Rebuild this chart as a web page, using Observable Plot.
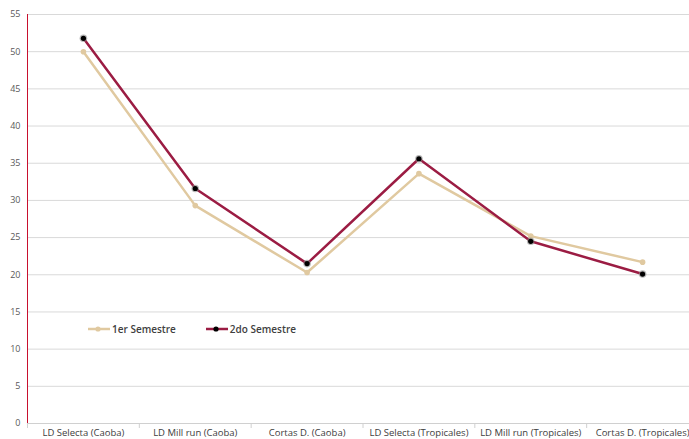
<!DOCTYPE html>
<html><head><meta charset="utf-8">
<script src="https://cdn.jsdelivr.net/npm/d3@7"></script>
<script src="https://cdn.jsdelivr.net/npm/@observablehq/plot@0.6"></script>
<style>
body{margin:0;background:#fff;font-family:"Open Sans",sans-serif;}
#wrap{position:relative;width:689px;height:439px;overflow:hidden;}
#legend{position:absolute;left:88px;top:322px;display:flex;font-size:10px;font-weight:600;color:#404040;}
.item{display:flex;align-items:center;margin-right:30px;}
.item svg{margin-right:2px;}
</style></head>
<body><div id="wrap"><div id="legend"></div></div>
<script>
const categories = ["LD Selecta (Caoba)","LD Mill run (Caoba)","Cortas D. (Caoba)","LD Selecta (Tropicales)","LD Mill run (Tropicales)","Cortas D. (Tropicales)"];
const serie1Name = "1er Semestre";
const serie2Name = "2do Semestre";
const serie1 = [50.0, 29.3, 20.3, 33.6, 25.2, 21.7];
const serie2 = [51.8, 31.6, 21.5, 35.6, 24.5, 20.1];
const yTicks = [0,5,10,15,20,25,30,35,40,45,50,55];

const c1 = "#e0c9a0", c2 = "#9b1c43";
const d1 = categories.map((c,i)=>({x:i+0.5, y:serie1[i]}));
const d2 = categories.map((c,i)=>({x:i+0.5, y:serie2[i]}));

const chart = Plot.plot({
  width:689, height:439,
  marginLeft:27, marginTop:14, marginBottom:16, marginRight:0,
  style:{fontFamily:"Open Sans, sans-serif", background:"#fff"},
  x:{domain:[0,6], range:[27,698]},
  y:{domain:[0,55]},
  marks:[
    Plot.gridY(yTicks,{stroke:"#d9d9d9", strokeOpacity:1}),
    Plot.ruleY([0],{stroke:"#d0d0d0"}),
    Plot.axisY(yTicks,{tickSize:0, tickPadding:7, fontSize:9, fill:"#595959", label:null}),
    Plot.axisX([0,1,2,3,4,5,6],{tickSize:5, stroke:"#d0d0d0", tickFormat:()=>"", label:null}),
    Plot.axisX(categories.map((c,i)=>i+0.5),{tickSize:0, tickPadding:6, fontSize:9.5, fill:"#404040", tickFormat:d=>categories[Math.round(d-0.5)], label:null}),
    Plot.ruleX([0],{stroke:"#c8102e", strokeWidth:1}),
    Plot.line(d1,{x:"x",y:"y",stroke:c1,strokeWidth:2.5}),
    Plot.dot(d1,{x:"x",y:"y",fill:c1,r:2.8}),
    Plot.line(d2,{x:"x",y:"y",stroke:c2,strokeWidth:2.5}),
    Plot.dot(d2,{x:"x",y:"y",fill:"#888",fillOpacity:0.6,r:3.8}),
    Plot.dot(d2,{x:"x",y:"y",fill:"#000",r:2.6})
  ]
});
document.getElementById("wrap").prepend(chart);

const legend = document.getElementById("legend");
[[serie1Name,c1,c1],[serie2Name,c2,"#000"]].forEach(([name,col,dot])=>{
  const it = document.createElement("div"); it.className="item";
  it.innerHTML = `<svg width="22" height="12"><line x1="0" x2="22" y1="6" y2="6" stroke="${col}" stroke-width="2.5"/><circle cx="10" cy="6" r="2.6" fill="${dot}"/></svg><span>${name}</span>`;
  legend.appendChild(it);
});
</script></body></html>
